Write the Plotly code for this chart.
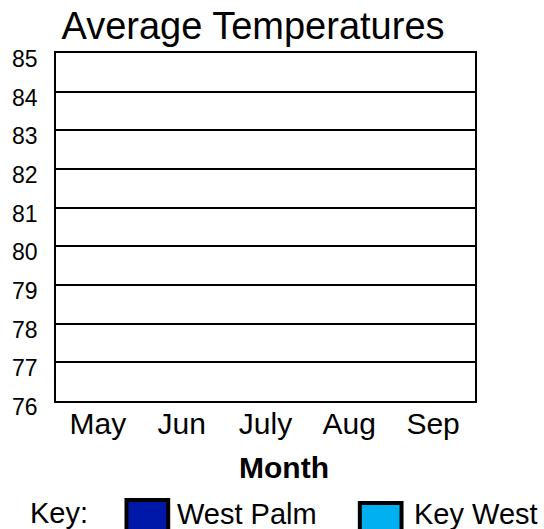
import plotly.graph_objects as go

# ---- data (the reference chart is a blank template: no values plotted) ----
months = ["May", "Jun", "July", "Aug", "Sep"]
west_palm = [None, None, None, None, None]
key_west = [None, None, None, None, None]
y_ticks = [76, 77, 78, 79, 80, 81, 82, 83, 84, 85]
series_names = ["West Palm", "Key West"]
series_colors = ["#0018A8", "#00B0F0"]

W, H = 544, 529
FONT = "Liberation Sans, Arial, sans-serif"

fig = go.Figure()
fig.add_trace(go.Bar(x=months, y=west_palm, name=series_names[0],
                     marker=dict(color=series_colors[0], line=dict(color="black", width=2)),
                     showlegend=False))
fig.add_trace(go.Bar(x=months, y=key_west, name=series_names[1],
                     marker=dict(color=series_colors[1], line=dict(color="black", width=2)),
                     showlegend=False))

L, R, T, B = 53, 475, 53, 401
fig.update_layout(
    width=W, height=H,
    margin=dict(l=L, r=W - R, t=T, b=H - B, pad=0),
    paper_bgcolor="white", plot_bgcolor="white",
    font=dict(family=FONT, color="black"),
    barmode="group",
    title=dict(text="Average Temperatures", font=dict(size=38, family=FONT, color="black"),
               x=253 / W, xref="container", xanchor="center",
               y=1 - 12 / H, yref="container", yanchor="top"),
    xaxis=dict(type="category", categoryorder="array", categoryarray=months,
               range=[-0.5, 4.5], showgrid=False, zeroline=False,
               showline=True, linecolor="black", linewidth=1.5, mirror=True,
               ticks="", tickfont=dict(size=30, family=FONT, color="black"),
               ticklabelstandoff=-5),
    yaxis=dict(range=[76, 85], tickvals=y_ticks, ticktext=[str(v) for v in y_ticks],
               showgrid=True, gridcolor="black", gridwidth=2, zeroline=False,
               showline=True, linecolor="black", linewidth=1.5, mirror=True,
               ticks="", tickfont=dict(size=23, family=FONT, color="black"),
               ticklabelstandoff=12, ticklabelshift=6),
)

def px_x(p):
    return (p - L) / (R - L)

def px_y(p):
    return (B - p) / (B - T)

# x-axis title
fig.add_annotation(text="<b>Month</b>", x=px_x(283), y=px_y(467), xref="paper", yref="paper",
                   showarrow=False, font=dict(size=30, family=FONT, color="black"),
                   xanchor="center", yanchor="middle")

# key
fig.add_annotation(text="Key:", x=px_x(25), y=px_y(513), xref="paper", yref="paper",
                   showarrow=False, font=dict(size=29, family=FONT, color="black"),
                   xanchor="left", yanchor="middle")
key_boxes = [(124, 500), (359, 503)]
key_text_x = [173, 412]
for name, color, (bx, by), tx in zip(series_names, series_colors, key_boxes, key_text_x):
    fig.add_shape(type="rect", xref="paper", yref="paper",
                  x0=px_x(bx), x1=px_x(bx + 42), y0=px_y(by), y1=px_y(by + 40),
                  fillcolor=color, line=dict(color="black", width=4), layer="above")
    fig.add_annotation(text=name, x=px_x(tx), y=px_y(514), xref="paper", yref="paper",
                       showarrow=False, font=dict(size=29, family=FONT, color="black"),
                       xanchor="left", yanchor="middle")

fig.write_html("out.html", config={"displayModeBar": False},
               post_script="document.body.style.margin='0';")
